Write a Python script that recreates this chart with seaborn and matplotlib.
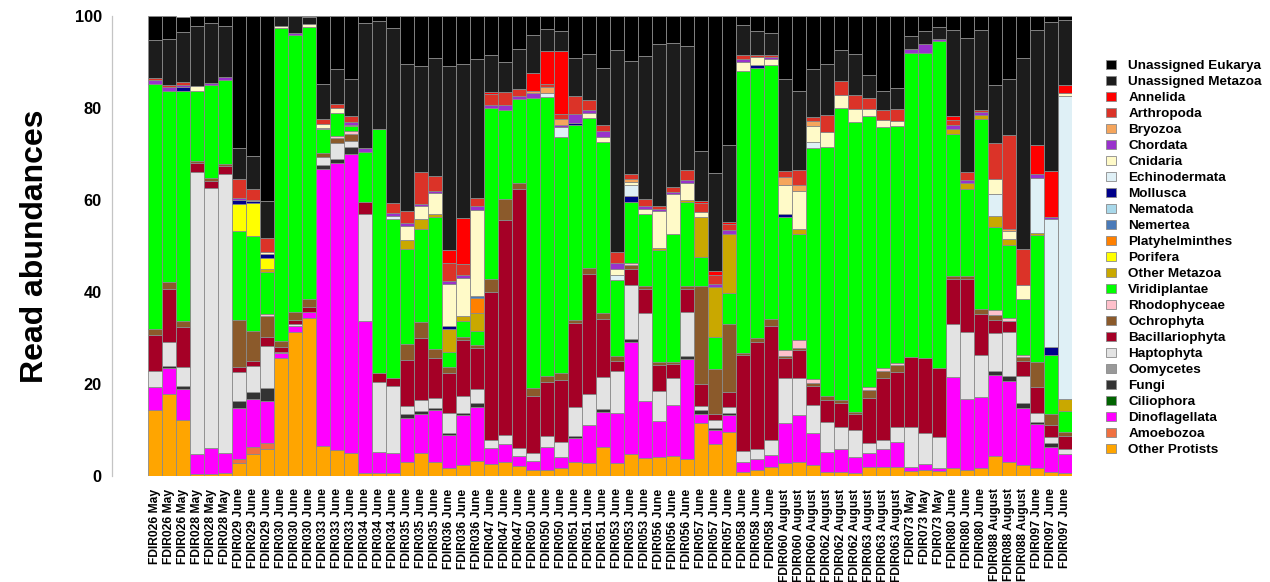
import matplotlib
matplotlib.use("Agg")
import matplotlib.pyplot as plt
from matplotlib.patches import Patch
import pandas as pd
import seaborn as sns

# Sampling sites (three replicates each) and sampling month
sites = ["FDIR026", "FDIR028", "FDIR029", "FDIR030", "FDIR033", "FDIR034",
         "FDIR035", "FDIR036", "FDIR047", "FDIR050", "FDIR051", "FDIR053",
         "FDIR056", "FDIR057", "FDIR058", "FDIR060", "FDIR062", "FDIR063",
         "FDIR073", "FDIR080", "FDIR088", "FDIR097"]
months = ["May", "May", "June", "June", "June", "June",
          "June", "June", "June", "June", "June", "June",
          "June", "June", "June", "August", "August", "August",
          "May", "June", "August", "June"]
samples = [f"{s} {m}" for s, m in zip(sites, months) for _ in range(3)]

# Relative read abundances (%) per taxon, one value per sample
other_protists = [14.3, 17.8, 12.2, 0.4, 0.4, 0.6, 2.9, 4.8, 5.8, 25.7, 31.4,
                  34.3, 6.6, 5.7, 4.9, 0.6, 0.6, 0.6, 3.1, 5.1, 3.1, 1.7,
                  2.4, 3.3, 2.6, 3.0, 2.2, 1.2, 1.4, 1.7, 3.1, 2.8, 6.4,
                  2.9, 4.8, 4.0, 4.1, 4.3, 3.8, 11.6, 7.0, 9.6, 0.9, 1.4,
                  1.9, 2.9, 3.1, 2.4, 0.9, 0.9, 0.6, 2.0, 1.9, 1.9, 1.1,
                  1.2, 1.1, 1.7, 1.3, 1.7, 4.3, 3.1, 2.4, 1.7, 0.9, 0.6]
amoebozoa = [0, 0, 0, 0, 0, 0, 0.9, 1.6, 1.3, 0, 0,
             0, 0, 0, 0, 0, 0, 0, 0, 0, 0, 0,
             0, 0, 0, 0, 0, 0, 0, 0, 0, 0, 0,
             0, 0, 0, 0, 0, 0, 0, 0, 0, 0, 0,
             0, 0, 0, 0, 0, 0, 0, 0, 0, 0, 0,
             0, 0, 0, 0, 0, 0, 0, 0, 0, 0, 0]
dinoflagellata = [5.1, 5.7, 6.7, 4.3, 5.6, 4.3, 10.9, 10.3, 9.3, 1.1, 1.2,
                  1.4, 60.1, 62.3, 65.2, 33.0, 4.7, 4.5, 9.6, 8.4, 11.2, 7.2,
                  10.9, 11.7, 3.4, 4.0, 2.2, 2.0, 4.9, 2.5, 5.1, 8.3, 7.6,
                  10.7, 24.4, 12.4, 7.8, 11.1, 21.7, 1.9, 2.9, 3.6, 2.2, 2.2,
                  2.7, 8.6, 10.1, 6.9, 4.3, 4.9, 3.6, 2.9, 3.9, 5.6, 0.8,
                  1.4, 0.6, 19.8, 15.4, 15.4, 17.6, 17.6, 12.3, 9.6, 5.3, 4.2]
ciliophora = [0] * 66
fungi = [0, 0.5, 0.6, 0, 0, 0, 1.7, 1.6, 2.8, 0, 0,
         0, 0.9, 0.9, 1.4, 0, 0, 0, 0.7, 0.7, 0.4, 0.5,
         0.5, 0.9, 0, 0, 0, 0, 0, 0, 0.4, 0, 0.5,
         0, 0.6, 0, 0, 0, 0.5, 0.9, 0.5, 0.5, 0, 0,
         0, 0, 0, 0, 0, 0, 0, 0, 0, 0, 0,
         0, 0, 0, 0, 0, 0.9, 1.0, 1.2, 0.5, 0.9, 0]
oomycetes = [0] * 66
haptophyta = [3.4, 5.1, 4.2, 61.3, 56.7, 60.7, 6.2, 5.7, 9.1, 0.2, 0.4,
              0, 1.8, 3.5, 1.4, 23.4, 15.2, 14.5, 1.8, 2.3, 2.2, 4.2,
              3.5, 3.1, 1.8, 2.0, 1.7, 1.8, 2.3, 3.3, 6.3, 6.7, 7.1,
              9.3, 11.7, 19.1, 6.5, 6.0, 9.6, 0.9, 1.7, 1.3, 2.4, 2.2,
              3.3, 9.8, 8.2, 6.2, 6.5, 4.8, 5.7, 2.2, 2.0, 3.1, 8.8,
              6.8, 6.7, 11.6, 14.5, 9.2, 8.2, 9.6, 5.8, 1.8, 1.3, 1.0]
bacillariophyta = [7.8, 11.6, 8.7, 2.0, 1.4, 1.8, 1.1, 0.9, 2.0, 1.1, 1.0,
                   1.1, 0, 0, 0, 2.5, 2.0, 1.7, 10.1, 13.6, 8.7, 8.8,
                   12.2, 8.9, 32.2, 46.6, 56.3, 12.5, 11.8, 13.3, 18.3, 26.2, 12.5,
                   2.2, 3.6, 5.1, 5.8, 2.9, 5.1, 4.8, 1.4, 3.3, 20.8, 23.4,
                   24.8, 4.3, 5.9, 4.1, 4.9, 5.2, 3.6, 9.8, 13.4, 12.1, 15.1,
                   16.2, 15.0, 9.7, 11.6, 8.9, 2.9, 2.4, 3.3, 5.8, 2.7, 2.8]
ochrophyta = [1.4, 1.4, 1.3, 0.4, 0.7, 0.4, 10.3, 6.7, 4.5, 1.3, 1.7,
              1.6, 0.9, 1.1, 1.4, 0, 0, 0, 3.3, 3.4, 2.0, 1.3,
              0.7, 0.5, 2.9, 4.6, 1.4, 1.7, 1.4, 1.6, 0.7, 1.3, 1.3,
              0.9, 0.7, 0.6, 0.5, 0.5, 0.7, 21.3, 9.7, 14.7, 0.4, 0.9,
              1.4, 0.4, 0.6, 0.6, 0.7, 0.7, 0.5, 1.7, 1.7, 1.4, 0,
              0, 0, 0.6, 0.6, 1.2, 1.1, 0, 0.9, 5.4, 2.4, 0.9]
rhodophyceae = [0, 0, 0, 0, 0, 0, 0, 0, 0.4, 0, 0,
                0, 0, 0.5, 0.6, 0, 0, 0, 0, 0, 0, 0,
                0, 0, 0, 0, 0, 0, 0, 0, 0, 0, 0,
                0, 0.5, 0, 0, 0, 0, 0, 0, 0, 0, 0,
                0, 1.4, 1.6, 0.9, 0, 0, 0, 0.7, 0.5, 0.5, 0,
                0, 0, 0, 0, 0, 1.1, 0.7, 0.4, 0, 0, 0]
viridiplantae = [53.3, 41.5, 49.9, 15.2, 20.3, 18.3, 19.3, 20.6, 9.2, 67.9, 60.1,
                 59.1, 5.1, 4.9, 1.2, 11.0, 53.0, 34.6, 20.7, 20.1, 28.7, 3.3,
                 3.4, 3.1, 37.1, 19.4, 18.1, 63.0, 60.5, 51.3, 42.4, 32.6, 37.3,
                 16.5, 13.3, 15.8, 24.5, 27.8, 18.2, 6.2, 7.0, 6.7, 61.4, 58.5,
                 55.3, 28.8, 23.0, 50.2, 54.2, 63.4, 63.0, 59.0, 52.5, 51.4, 66.1,
                 66.3, 71.2, 31.0, 19.0, 41.1, 18.0, 15.9, 12.1, 27.5, 12.8, 4.6]
other_metazoa = [0, 0, 0, 0, 0, 0, 0, 0, 0.7, 0, 0,
                 0, 0, 0, 0, 0, 0, 0, 1.9, 2.2, 0.7, 4.9,
                 1.1, 3.9, 0, 0, 0, 0, 0, 0, 0, 0, 0,
                 0, 0, 0, 0.4, 0, 0.5, 8.8, 10.9, 12.9, 0, 0,
                 0, 0, 1.2, 0, 0, 0, 0, 0, 0, 0, 0,
                 0, 0, 1.1, 1.3, 0.9, 2.5, 1.3, 0, 0.5, 0, 2.7]
porifera = [0, 0, 0, 0, 0, 0, 5.9, 7.1, 2.2, 0, 0,
            0, 0, 0, 0.3, 0, 0, 0, 0, 0, 0, 0,
            0, 0, 0, 0, 0, 0, 0, 0, 0, 0, 0,
            0, 0, 0, 0, 0, 0, 0, 0, 0, 0, 0,
            0, 0, 0, 0, 0, 0, 0, 0, 0, 0, 0,
            0, 0, 0, 0, 0, 0, 0, 0, 0, 0, 0]
platyhelminthes = [0, 0, 0, 0, 0, 0, 0, 0, 0, 0, 0,
                   0, 0, 0, 0, 0, 0, 0, 0, 0, 0, 0,
                   0, 3.3, 0, 0, 0, 0, 0, 0, 0, 0, 0,
                   0, 0, 0, 0, 0, 0, 0, 0, 0, 0, 0,
                   0, 0, 0, 0, 0, 0, 0, 0, 0, 0, 0,
                   0, 0, 0, 0, 0, 0, 0, 0, 0, 0, 0]
nemertea = [0, 0, 0, 0, 0, 0, 0, 0, 0, 0, 0,
            0, 0, 0, 0, 0, 0, 0, 0, 0, 0, 0,
            0, 0.4, 0, 0, 0, 0, 0, 0, 0, 0, 0,
            0, 0, 0, 0, 0, 0, 0, 0, 0, 0, 0,
            0, 0, 0, 0, 0, 0, 0, 0, 0, 0, 0,
            0, 0, 0, 0, 0, 0, 0, 0, 0, 0, 0]
nematoda = [0] * 66
mollusca = [0, 0, 0.9, 0, 0, 0, 0.9, 0.4, 1.0, 0, 0,
            0, 0, 0, 0, 0, 0, 0, 0, 0, 0, 0.7,
            0, 0, 0, 0, 0, 0, 0, 0, 0.4, 0, 0,
            0, 1.2, 0, 0, 0, 0, 0, 0, 0, 0, 0.7,
            0, 0.7, 0, 0, 0, 0, 0, 0, 0, 0, 0,
            0, 0, 0, 0, 0, 0, 0, 0, 0, 1.7, 0]
echinodermata = [0, 0, 0, 0, 0, 0, 0, 0.3, 0, 0, 0,
                 0, 0.3, 0, 0, 0, 0, 0.6, 0, 0, 0, 0,
                 0, 0, 0, 0, 0, 0, 0.9, 2.2, 0, 0, 0,
                 1.2, 2.4, 0, 0, 0, 0, 0, 0, 0, 0, 0,
                 0, 0, 0, 1.2, 0, 0, 0, 0, 0, 0, 0,
                 0, 0, 0, 0, 0, 4.6, 0, 0, 12.0, 27.8, 65.7]
cnidaria = [0, 0, 0, 1.1, 0, 0, 0, 0, 0.4, 0.5, 0,
            0.7, 0.8, 1.0, 0, 0, 0, 0, 3.2, 2.8, 4.5, 9.1,
            8.3, 18.8, 0, 0, 0, 0, 0, 0, 0, 1.0, 0.9,
            1.4, 0.7, 1.0, 8.0, 8.7, 3.6, 0.9, 0, 0, 2.0, 1.7,
            1.2, 6.3, 8.3, 3.5, 3.3, 2.9, 2.7, 1.4, 1.4, 1.2, 0,
            0, 0, 0, 0, 0, 3.4, 1.7, 3.1, 0, 0, 0.7]
chordata = [0.8, 0.9, 0.6, 0, 0.4, 0.6, 0.4, 0, 0, 0, 0.5,
            0, 0, 0, 0.6, 0.9, 0, 0.6, 0.6, 0.5, 0.4, 0.7,
            0.6, 0.9, 0.7, 1.1, 0.6, 1.1, 0, 0.5, 2.0, 0.6, 1.3,
            1.2, 0, 0.6, 0.5, 0.5, 0.6, 0, 0.7, 0.9, 0.5, 0,
            0.5, 0, 0, 0, 0, 0, 0, 0, 0, 0, 0.9,
            2.0, 0.5, 0.9, 0.7, 0.7, 0, 0, 0, 0.9, 0.6, 0]
bryozoa = [0, 0, 0, 0, 0, 0, 0, 0, 0, 0, 0,
           0, 0, 0, 0, 0, 0, 0, 0, 0, 0, 0,
           0, 0, 0, 0, 0, 0.5, 1.4, 1.1, 0, 0, 0,
           0, 0.7, 0, 0, 0, 0, 0, 0, 0, 0, 0,
           0, 1.7, 1.3, 1.1, 0, 0, 0, 0, 0, 0, 0,
           0, 0, 0, 0, 0, 0, 0.5, 0, 0, 0, 0]
arthropoda = [0.4, 0.5, 0.6, 0, 0, 0, 4.1, 2.3, 3.0, 0, 0,
              0, 1.2, 0.9, 1.3, 0, 0, 2.3, 2.5, 7.0, 3.3, 3.8,
              2.5, 1.7, 2.4, 2.7, 1.6, 0, 0.7, 1.1, 3.8, 2.2, 1.4,
              2.4, 1.1, 1.6, 0.7, 1.1, 2.2, 2.0, 1.8, 1.2, 0.9, 0.5,
              0.5, 1.4, 3.2, 0.9, 3.6, 3.1, 3.1, 2.4, 2.2, 2.5, 0,
              0, 0, 0.9, 1.6, 0.4, 7.8, 20.3, 7.8, 0, 0, 0]
annelida = [0, 0, 0, 0, 0, 0, 0, 0, 0, 0, 0,
            0, 0, 0, 0, 0, 0, 0, 0, 0, 0, 3.0,
            9.9, 0, 0.4, 0, 0, 3.8, 7.1, 13.8, 0, 0, 0,
            0, 0, 0, 0, 0, 0, 0.4, 0.9, 0.6, 0, 0,
            0, 0, 0, 0, 0, 0, 0, 0, 0, 0, 0,
            0, 0, 0.9, 0, 0, 0, 0, 0, 6.2, 10.0, 1.7]
unassigned_metazoa = [8.3, 10.1, 10.9, 13.1, 12.9, 11.2, 6.7, 7.2, 8.1, 2.1, 3.6,
                      1.5, 7.6, 7.7, 8.1, 27.1, 23.5, 37.9, 32.1, 23.0, 25.7, 39.9,
                      33.6, 30.1, 8.1, 6.7, 8.8, 8.2, 4.7, 4.3, 8.3, 10.1, 12.5,
                      43.8, 24.5, 31.2, 35.2, 31.2, 27.0, 10.9, 21.4, 16.7, 6.5, 5.3,
                      4.6, 20.1, 17.2, 10.4, 11.2, 6.7, 8.9, 5.1, 4.3, 4.6, 2.9,
                      2.9, 2.4, 18.7, 29.2, 17.5, 12.7, 12.3, 41.5, 25.0, 32.2, 14.2]
unassigned_eukarya = [5.1, 4.9, 3.2, 2.2, 1.6, 2.1, 28.7, 30.5, 40.2, 0.1, 0.1,
                      0.3, 14.7, 11.5, 13.6, 1.5, 1.0, 2.7, 10.4, 10.9, 9.1, 10.9,
                      10.4, 9.4, 8.4, 9.9, 7.1, 4.2, 2.9, 3.3, 9.2, 8.2, 11.2,
                      7.5, 9.8, 8.6, 6.0, 5.9, 6.5, 29.4, 34.1, 28.0, 2.0, 3.2,
                      3.8, 13.6, 16.3, 11.6, 10.4, 7.4, 8.3, 12.8, 16.2, 15.7, 4.3,
                      3.2, 2.5, 3.1, 4.8, 3.0, 14.9, 13.6, 9.2, 3.1, 1.4, 0.9]

# Taxa from the top of each stack to the bottom, with their fill colours
taxa = [
    ("Unassigned Eukarya", unassigned_eukarya, "#000000"),
    ("Unassigned Metazoa", unassigned_metazoa, "#1c1c1c"),
    ("Annelida", annelida, "#ff0000"),
    ("Arthropoda", arthropoda, "#db3328"),
    ("Bryozoa", bryozoa, "#f5a55c"),
    ("Chordata", chordata, "#9932cc"),
    ("Cnidaria", cnidaria, "#fffac8"),
    ("Echinodermata", echinodermata, "#dff0f6"),
    ("Mollusca", mollusca, "#00008b"),
    ("Nematoda", nematoda, "#a8d8ea"),
    ("Nemertea", nemertea, "#4a7ab8"),
    ("Platyhelminthes", platyhelminthes, "#ff8000"),
    ("Porifera", porifera, "#ffff00"),
    ("Other Metazoa", other_metazoa, "#c9a800"),
    ("Viridiplantae", viridiplantae, "#00ff00"),
    ("Rhodophyceae", rhodophyceae, "#ffc0cb"),
    ("Ochrophyta", ochrophyta, "#8b5a2b"),
    ("Bacillariophyta", bacillariophyta, "#a50026"),
    ("Haptophyta", haptophyta, "#e3e3e3"),
    ("Oomycetes", oomycetes, "#999999"),
    ("Fungi", fungi, "#333333"),
    ("Ciliophora", ciliophora, "#006400"),
    ("Dinoflagellata", dinoflagellata, "#ff00ff"),
    ("Amoebozoa", amoebozoa, "#f07040"),
    ("Other Protists", other_protists, "#ffa500"),
]
for _, vals, _ in taxa:
    assert len(vals) == len(samples)

names = [t[0] for t in taxa]
palette = {t[0]: t[2] for t in taxa}
records = []
for name, vals, _ in taxa:
    for i, v in enumerate(vals):
        records.append({"sample": i, "taxon": name, "abundance": v})
df = pd.DataFrame(records)

sns.set_style("white")
plt.rcParams["font.family"] = ["Liberation Sans", "DejaVu Sans"]
plt.rcParams["font.weight"] = "bold"
plt.rcParams["text.color"] = "black"
plt.rcParams["xtick.labelcolor"] = "black"
plt.rcParams["ytick.labelcolor"] = "black"

fig = plt.figure(figsize=(12.7, 5.82), dpi=100)
ax = fig.add_axes([148 / 1270, 1 - 476 / 582, 924 / 1270, 460 / 582])

edge = "#8a8a8a"
sns.histplot(data=df, x="sample", weights="abundance", hue="taxon",
             hue_order=names, palette=palette, multiple="stack",
             discrete=True, shrink=1, alpha=1, element="bars",
             edgecolor=edge, linewidth=0.6, legend=False, ax=ax)

ax.set_xlim(-0.5, len(samples) - 0.5)
ax.set_ylim(0, 100)
ax.set_xticks(range(len(samples)))
ax.set_xticklabels(samples, rotation=90, va="top", ha="center")
ax.set_yticks([0, 20, 40, 60, 80, 100])
ax.set_yticklabels(["0", "20", "40", "60", "80", "100"])
ax.tick_params(axis="x", length=0, pad=9, labelsize=8.7, labelcolor="black")
ax.tick_params(axis="y", length=3.3, width=0.8, color="#c4c4c4", pad=4,
               labelsize=11.8, labelcolor="black")
for lbl in ax.get_xticklabels() + ax.get_yticklabels():
    lbl.set_fontweight("bold")
ax.set_xlabel("")
ax.set_ylabel("")
for side in ("top", "right", "bottom"):
    ax.spines[side].set_visible(False)
ax.spines["left"].set_position(("outward", 26))
ax.spines["left"].set_color("#c4c4c4")
ax.spines["left"].set_linewidth(0.9)

fig.text(35 / 1270, 1 - 246 / 582, "Read abundances", rotation=90,
         ha="center", va="center", fontsize=23, fontweight="bold",
         color="black")

handles = [Patch(facecolor=palette[n], edgecolor="#8a8a8a", linewidth=0.6)
           for n in names]
fig.legend(handles, names, loc="upper left",
           bbox_to_anchor=(1106 / 1270, 1 - 60 / 582), frameon=False,
           prop={"size": 9.7, "weight": "bold"}, handlelength=0.75,
           handleheight=0.7, handletextpad=0.9, labelspacing=0.265,
           borderpad=0, borderaxespad=0, labelcolor="black")

fig.savefig("out.png", dpi=100)
